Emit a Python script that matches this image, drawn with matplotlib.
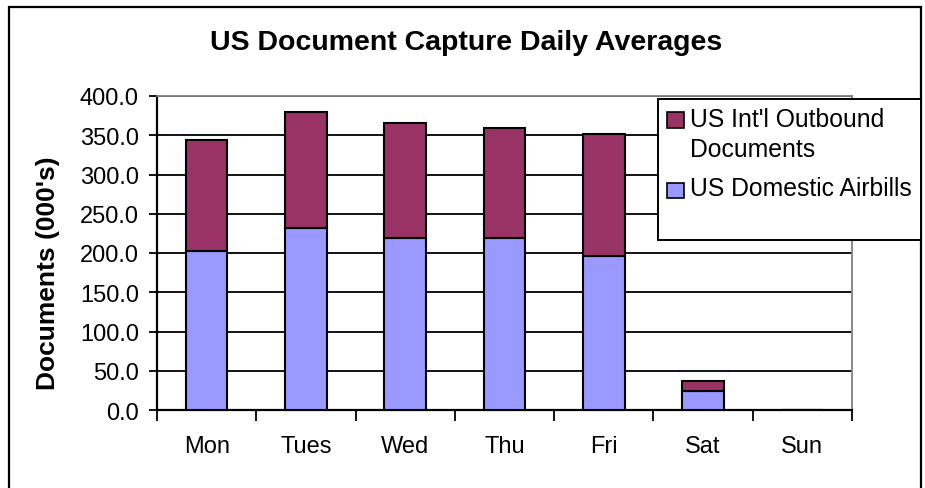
import matplotlib
matplotlib.use("Agg")
import matplotlib.pyplot as plt
from matplotlib.patches import Rectangle

plt.rcParams['font.family'] = ['Liberation Sans', 'DejaVu Sans']

# data (thousands of documents)
days = ["Mon", "Tues", "Wed", "Thu", "Fri", "Sat", "Sun"]
domestic = [203, 232, 219, 219, 196, 24, 0]
intl = [141, 148, 146, 140, 156, 13, 0]
yticks = [0, 50, 100, 150, 200, 250, 300, 350, 400]

c_intl = "#993366"
c_dom = "#9999FF"

W, H = 925, 489
fig = plt.figure(figsize=(W / 100, H / 100), dpi=100)

def fx(px):
    return px / W

def fy(py):
    return 1 - py / H

ax = fig.add_axes([fx(157), fy(411), fx(852) - fx(157), fy(97) - fy(411)])

x = list(range(len(days)))
ax.bar(x, domestic, width=0.42, color=c_dom, edgecolor="black", linewidth=1.5, zorder=3)
ax.bar(x, intl, bottom=domestic, width=0.42, color=c_intl, edgecolor="black", linewidth=1.5, zorder=3)

ax.set_xlim(-0.5, len(days) - 0.5)
ax.set_ylim(0, 400)
ax.set_yticks(yticks)
ax.set_yticklabels(["%.1f" % v for v in yticks])
ax.yaxis.grid(True, color="black", linewidth=1.3, zorder=0)

# category labels centred, tick marks between categories
ax.set_xticks(x)
ax.set_xticklabels(days)
ax.set_xticks([i - 0.5 for i in range(len(days) + 1)], minor=True)
ax.tick_params(axis="x", which="major", length=0, pad=18, labelsize=17)
ax.tick_params(axis="x", which="minor", length=8, width=1.3, direction="out")
ax.tick_params(axis="y", length=6, width=1.3, direction="out", pad=7, labelsize=17)

for s in ["left", "bottom"]:
    ax.spines[s].set_linewidth(1.6)
    ax.spines[s].set_color("black")
for s in ["top", "right"]:
    ax.spines[s].set_linewidth(1.3)
    ax.spines[s].set_color("#808080")

fig.text(fx(466), fy(43), "US Document Capture Daily Averages", ha="center", va="center",
         fontsize=20.5, fontweight="bold")
fig.text(fx(48), fy(273), "Documents (000's)", ha="center", va="center", rotation=90,
         fontsize=19, fontweight="bold")

# outer chart frame
fig.add_artist(Rectangle((fx(9), -0.1), fx(921) - fx(9), fy(8) + 0.1, transform=fig.transFigure,
                         fill=False, edgecolor="black", linewidth=1.6, clip_on=False))

# legend box drawn like the spreadsheet one
fig.add_artist(Rectangle((fx(658), fy(241)), fx(921) - fx(658), fy(100) - fy(241),
                         transform=fig.transFigure, facecolor="white", edgecolor="black",
                         linewidth=1.4, zorder=5))
fig.add_artist(Rectangle((fx(667), fy(129)), fx(684) - fx(667), fy(113) - fy(129),
                         transform=fig.transFigure, facecolor=c_intl, edgecolor="black",
                         linewidth=1.2, zorder=6))
fig.add_artist(Rectangle((fx(667), fy(199)), fx(684) - fx(667), fy(184) - fy(199),
                         transform=fig.transFigure, facecolor=c_dom, edgecolor="black",
                         linewidth=1.2, zorder=6))
fig.text(fx(690), fy(127), "US Int'l Outbound", ha="left", va="baseline", fontsize=17.8, zorder=7)
fig.text(fx(690), fy(157), "Documents", ha="left", va="baseline", fontsize=17.8, zorder=7)
fig.text(fx(690), fy(196), "US Domestic Airbills", ha="left", va="baseline", fontsize=17.8, zorder=7)

fig.savefig("out.png", dpi=100)
